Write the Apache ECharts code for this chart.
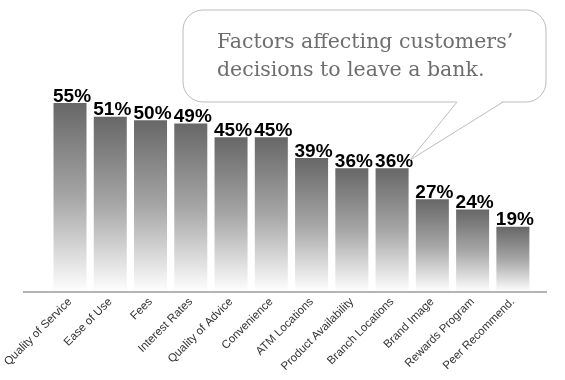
<!DOCTYPE html>
<html>
<head>
<meta charset="utf-8">
<script src="https://cdn.jsdelivr.net/npm/echarts@6/dist/echarts.min.js"></script>
<style>
html,body{margin:0;padding:0;background:#fff;}
#chart{width:565px;height:380px;}
</style>
</head>
<body>
<div id="chart"></div>
<script>
var categories = ["Quality of Service","Ease of Use","Fees","Interest Rates","Quality of Advice","Convenience","ATM Locations","Product Availability","Branch Locations","Brand Image","Rewards Program","Peer Recommend."];
var values = [55,51,50,49,45,45,39,36,36,27,24,19];
var titleLines = ["Factors affecting customers\u2019","decisions to leave a bank."];

var chart = echarts.init(document.getElementById('chart'), null, {renderer:'canvas'});
chart.setOption({
  backgroundColor:'#fff',
  animation:false,
  grid:{left:48,right:32,top:17,bottom:88,containLabel:false},
  xAxis:{
    type:'category',
    data:categories,
    axisLine:{show:false},
    axisTick:{show:false},
    axisLabel:{rotate:45,fontSize:11.5,color:'#333',fontFamily:'Liberation Sans, Arial, sans-serif',margin:8,interval:0}
  },
  yAxis:{type:'value',min:0,max:80,show:false,splitLine:{show:false}},
  series:[{
    type:'bar',
    data:values,
    barCategoryGap:'18%',
    itemStyle:{
      color:{type:'linear',x:0,y:0,x2:0,y2:1,colorStops:[
        {offset:0,color:'#676767'},
        {offset:0.5,color:'#a6a6a6'},
        {offset:1,color:'#ffffff'}
      ]}
    },
    label:{
      show:true,
      position:'top',
      distance:-3,
      offset:[2,0],
      formatter:'{c}%',
      fontSize:19,
      fontWeight:'bold',
      color:'#000',
      fontFamily:'Liberation Sans, Arial, sans-serif'
    }
  }],
  graphic:[
    {type:'line',shape:{x1:23,y1:292,x2:547,y2:292},style:{stroke:'#b4b4b4',lineWidth:2},z:10},
    {type:'rect',shape:{x:183,y:10,width:363,height:92,r:20},style:{fill:'#fff',stroke:'#bdbdbd',lineWidth:1},z:5},
    {type:'polygon',shape:{points:[[457,101],[503,101],[410,160]]},style:{fill:'#fff',stroke:null},z:6},
    {type:'polyline',shape:{points:[[457,102],[410,160],[503,102]]},style:{stroke:'#bdbdbd',lineWidth:1,fill:null},z:7},
    {type:'text',left:217,top:29,z:8,style:{text:titleLines.join('\n'),font:'20.5px "DejaVu Serif", serif',fill:'#6e6e6e',lineHeight:28}}
  ]
});
</script>
</body>
</html>
